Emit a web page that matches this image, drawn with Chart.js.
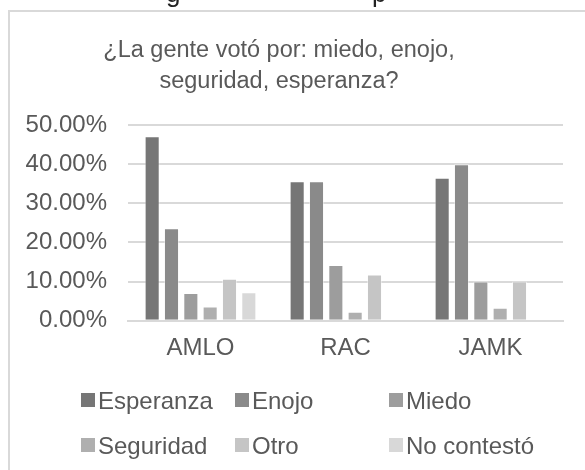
<!DOCTYPE html>
<html>
<head>
<meta charset="utf-8">
<script src="https://cdn.jsdelivr.net/npm/chart.js@4/dist/chart.umd.min.js"></script>
<style>
  html, body { margin: 0; padding: 0; background: #ffffff; }
  #wrap { width: 585px; height: 470px; position: relative; }
</style>
</head>
<body>
<div id="wrap"><canvas id="c" width="585" height="470"></canvas></div>
<script>
// ---- data ----
const categories = ["AMLO", "RAC", "JAMK"];
const seriesNames = ["Esperanza", "Enojo", "Miedo", "Seguridad", "Otro", "No contestó"];
const esperanza  = [47.1, 35.6, 36.5];
const enojo      = [23.6, 35.6, 40.0];
const miedo      = [7.1, 14.2, 10.0];
const seguridad  = [3.6, 2.3, 3.3];
const otro       = [10.7, 11.8, 10.0];
const noContesto = [7.3, 0, 0];
const yTicks = [0, 10, 20, 30, 40, 50];
const titleLines = ["¿La gente votó por: miedo, enojo,", "seguridad, esperanza?"];

const seriesColors = ["#767676", "#8a8a8a", "#9d9d9d", "#afafaf", "#c5c5c5", "#d8d8d8"];
const seriesValues = [esperanza, enojo, miedo, seguridad, otro, noContesto];

const FONT = "'Liberation Sans', Arial, sans-serif";
const TEXT = "#595959";

const datasets = seriesNames.map((name, i) => ({
  label: name,
  data: seriesValues[i],
  backgroundColor: seriesColors[i],
  borderColor: "rgba(255,255,255,0.45)",
  borderWidth: 1,
  categoryPercentage: 0.8,
  barPercentage: 0.78
}));

const decorPlugin = {
  id: "decor",
  beforeDraw(chart) {
    const ctx = chart.ctx;
    ctx.save();
    ctx.fillStyle = "#ffffff";
    ctx.fillRect(0, 0, chart.width, chart.height);
    // cut-off text from above the chart frame
    ctx.fillStyle = "#222222";
    ctx.font = "26px " + FONT;
    ctx.textBaseline = "alphabetic";
    ctx.textAlign = "left";
    ctx.fillText("g", 166, 2);
    ctx.fillText("p", 372, 2);
    // frame
    ctx.fillStyle = "#d9d9d9";
    ctx.fillRect(8, 10, chart.width - 8, 2);
    ctx.fillRect(8, 10, 2, chart.height - 10);
    ctx.restore();
  },
  afterDraw(chart) {
    const ctx = chart.ctx;
    ctx.save();
    // title
    ctx.fillStyle = TEXT;
    ctx.font = "23.5px " + FONT;
    ctx.textAlign = "center";
    ctx.textBaseline = "alphabetic";
    ctx.fillText(titleLines[0], 279, 57);
    ctx.fillText(titleLines[1], 279, 88);
    // legend (3 columns x 2 rows)
    ctx.font = "24px " + FONT;
    ctx.textAlign = "left";
    const colX = [81, 235, 389];
    const rowBase = [409, 454];
    chart.data.datasets.forEach((ds, i) => {
      const col = i % 3, row = Math.floor(i / 3);
      const x = colX[col], yb = rowBase[row];
      ctx.fillStyle = ds.backgroundColor;
      ctx.fillRect(x, yb - 16, 14, 14);
      ctx.fillStyle = TEXT;
      ctx.fillText(ds.label, x + 17, yb);
    });
    ctx.restore();
  }
};

new Chart(document.getElementById("c"), {
  type: "bar",
  data: { labels: categories, datasets },
  options: {
    responsive: false,
    animation: false,
    devicePixelRatio: 1,
    layout: { padding: { top: 125, right: 22, left: 0, bottom: 0 } },
    plugins: {
      legend: { display: false },
      title: { display: false },
      tooltip: { enabled: false }
    },
    scales: {
      x: {
        grid: { display: false, drawTicks: false },
        border: { display: true, color: "#d9d9d9", width: 2 },
        ticks: { color: TEXT, font: { size: 24, family: FONT }, padding: 13 },
        afterFit(scale) { scale.height = 149.3; }
      },
      y: {
        min: 0, max: 50,
        afterBuildTicks(scale) { scale.ticks = yTicks.map(v => ({ value: v })); },
        grid: { color: "#d9d9d9", lineWidth: 2, drawTicks: false },
        border: { display: false },
        ticks: {
          color: TEXT, font: { size: 24, family: FONT }, padding: 21,
          callback: v => v.toFixed(2) + "%"
        },
        afterFit(scale) { scale.width = 128; }
      }
    }
  },
  plugins: [decorPlugin]
});
</script>
</body>
</html>
